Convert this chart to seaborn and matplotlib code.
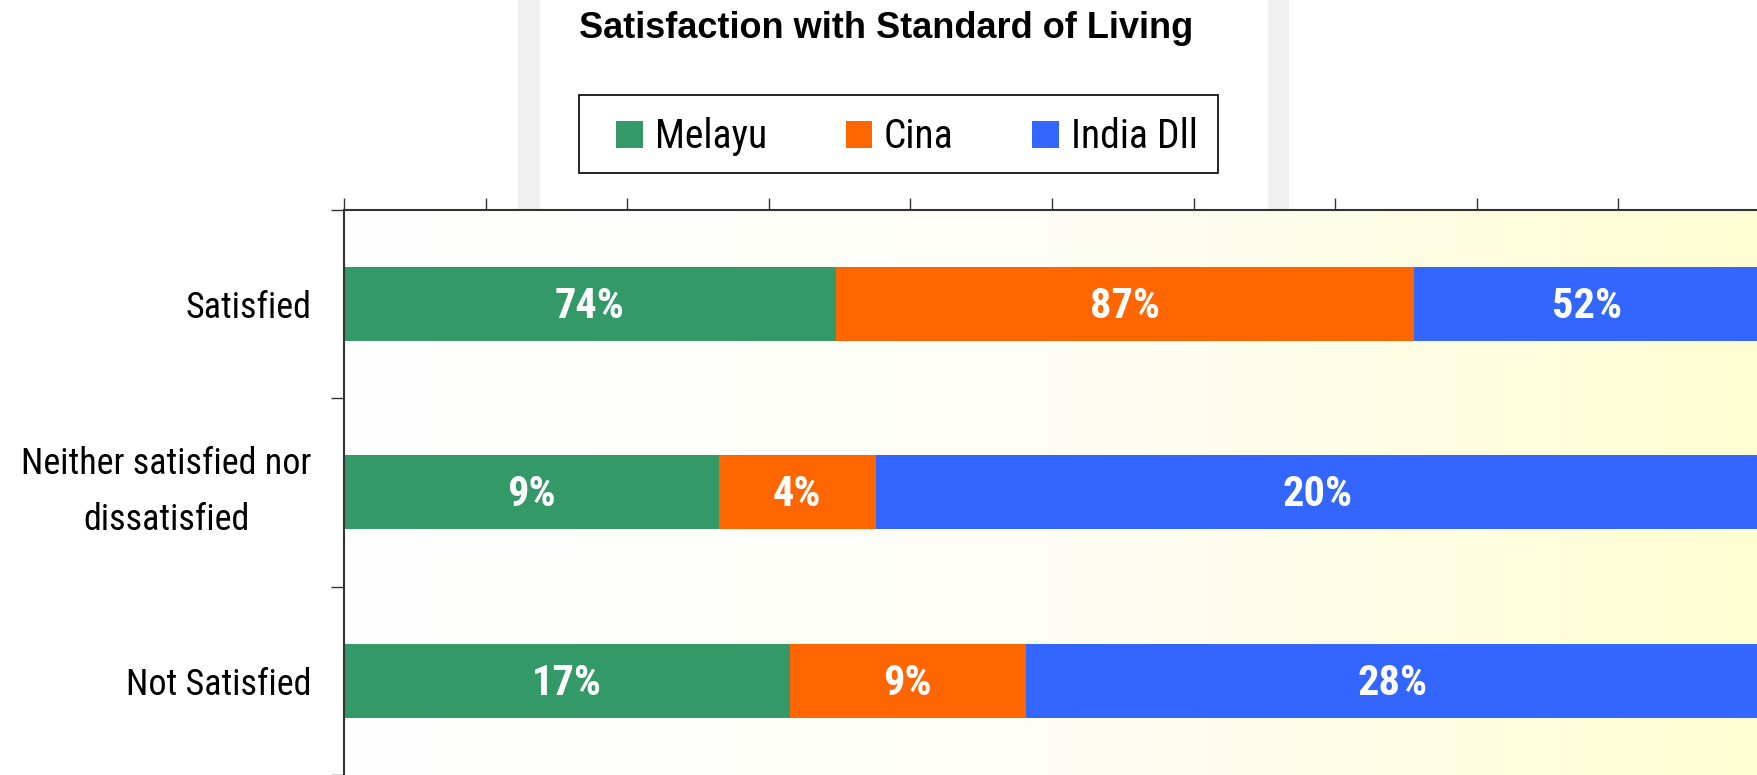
import numpy as np
import matplotlib
matplotlib.use("Agg")
import matplotlib.pyplot as plt
import seaborn as sns
from matplotlib import font_manager
from matplotlib.colors import LinearSegmentedColormap
from matplotlib.patches import Patch, Rectangle

# data (percent within each group)
categories = ["Satisfied", "Neither satisfied nor\ndissatisfied", "Not Satisfied"]
groups = ["Melayu", "Cina", "India Dll"]
melayu = [74.0, 8.6, 17.0]
cina = [87.0, 3.6, 9.0]
india = [52.0, 20.3, 28.0]
colors = ["#339966", "#FF6600", "#3366FF"]
title = "Satisfaction with Standard of Living"


def has_font(name):
    try:
        font_manager.findfont(name, fallback_to_default=False)
        return True
    except ValueError:
        return False


# the original uses a narrow Arial; use a condensed face if one is there
narrow = [f for f in ["Liberation Sans Narrow", "Roboto Condensed", "Arial Narrow"] if has_font(f)]
if narrow:
    family = [narrow[0], "Liberation Sans", "DejaVu Sans"]
    size_cat, size_leg, size_bar = 26, 28.5, 30.5
else:
    family = ["Liberation Sans", "DejaVu Sans"]
    size_cat, size_leg, size_bar = 22.4, 24.7, 24.9

sns.set_style("white")
plt.rcParams["font.family"] = family

vals = np.array([melayu, cina, india])
shares = vals / vals.sum(axis=0) * 100
cum = np.cumsum(shares, axis=0)

W, H = 1757, 775
fig = plt.figure(figsize=(W / 100, H / 100), dpi=100)

# grey strips behind the title area
for x0, w in [(518, 22), (1268, 21)]:
    fig.add_artist(Rectangle((x0 / W, 1 - 209 / H), w / W, 209 / H,
                             transform=fig.transFigure, color="#EFEFEF",
                             lw=0, zorder=-1))

ax = fig.add_axes([344 / W, 0, 1416 / W, 1 - 209.5 / H])

# white -> light yellow background gradient
bg = LinearSegmentedColormap.from_list("bg", ["#FFFFFF", "#FEFEF6", "#FFFDD2"])
ax.imshow(np.linspace(0, 1, 256)[None, :], extent=[0, 100, 2.5, -0.5],
          aspect="auto", cmap=bg, zorder=0)

# stacked bars: draw cumulative totals from the back
for i in reversed(range(len(groups))):
    sns.barplot(x=cum[i], y=categories, color=colors[i], saturation=1,
                width=0.39, orient="h", linewidth=0, ax=ax, zorder=2)

for i in range(len(groups)):
    for j in range(len(categories)):
        ax.text(cum[i, j] - shares[i, j] / 2, j - 0.01, f"{vals[i, j]:.0f}%",
                ha="center", va="center_baseline", color="white",
                fontsize=size_bar, fontweight="bold", zorder=3)

ax.set_xlim(0, 100)
ax.set_ylim(2.5, -0.5)
ax.set_xlabel("")
ax.set_ylabel("")

ax.xaxis.tick_top()
ax.set_xticks(np.arange(0, 101, 10))
ax.tick_params(axis="x", top=True, bottom=False, labeltop=False, labelbottom=False,
               length=8.6, width=1, color="#333333", direction="out")
ax.set_yticks([-0.5, 0.5, 1.5, 2.5], minor=True)
ax.tick_params(axis="y", which="minor", left=True, length=9.4, width=1,
               color="#333333", direction="out")
ax.tick_params(axis="y", which="major", left=False, length=0, pad=23.5,
               labelsize=size_cat, labelcolor="black")
for lab in ax.get_yticklabels():
    lab.set_multialignment("center")
    if "\n" in lab.get_text():
        lab.set_linespacing(1.7)
        lab.set_verticalalignment("center")

for s in ["right", "bottom"]:
    ax.spines[s].set_visible(False)
for s in ["top", "left"]:
    ax.spines[s].set_color("#333333")
    ax.spines[s].set_linewidth(1.5)

fig.text(886 / W, 1 - 38.5 / H, title, ha="center", va="baseline", color="black",
         fontsize=26, fontweight="bold", family=["Liberation Sans", "DejaVu Sans"])

handles = [Patch(facecolor=c, edgecolor="none", label=g) for c, g in zip(colors, groups)]
fig.legend(handles=handles, loc="center", bbox_to_anchor=(907 / W, 1 - 137 / H),
           ncol=3, frameon=False, fontsize=size_leg, handlelength=0.7 * 27 / size_leg,
           handleheight=0.7 * 27 / size_leg, handletextpad=0.32 * 27 / size_leg,
           columnspacing=2.1 * 27 / size_leg, labelcolor="black")
fig.add_artist(Rectangle((579 / W, 1 - 173 / H), 639 / W, 78 / H,
                         transform=fig.transFigure, fill=False, ec="black", lw=1.2))

fig.savefig("out.png", dpi=100)
